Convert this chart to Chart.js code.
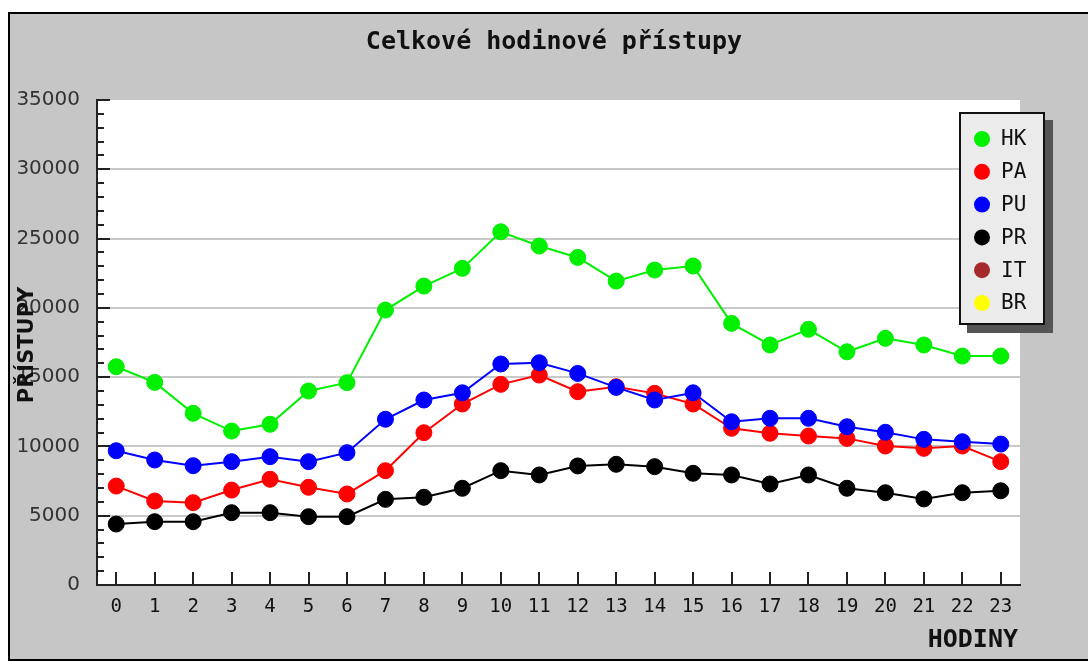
<!DOCTYPE html>
<html>
<head>
<meta charset="utf-8">
<script src="https://cdn.jsdelivr.net/npm/chart.js@4"></script>
<style>
  html, body { margin: 0; padding: 0; background: #fff; }
  #wrap { width: 1088px; height: 662px; }
</style>
</head>
<body>
<div id="wrap"><canvas id="hourChart" width="1088" height="662"></canvas></div>
<script>
const hours = ['0','1','2','3','4','5','6','7','8','9','10','11','12','13','14','15','16','17','18','19','20','21','22','23'];

const hkData = [15750, 14620, 12390, 11110, 11600, 14000, 14600, 19840, 21570, 22850, 25490, 24460,
                23640, 21930, 22730, 23020, 18880, 17320, 18450, 16830, 17800, 17320, 16520, 16520];
const paData = [7140, 6060, 5940, 6850, 7630, 7050, 6570, 8250, 10990, 13060, 14480, 15150,
                13950, 14310, 13830, 13060, 11310, 10950, 10750, 10580, 10030, 9860, 10030, 8900];
const puData = [9690, 9020, 8610, 8900, 9260, 8900, 9550, 11960, 13350, 13870, 15950, 16040,
                15270, 14260, 13350, 13870, 11780, 12030, 12030, 11420, 11020, 10510, 10340, 10170];
const prData = [4400, 4570, 4570, 5220, 5220, 4930, 4930, 6180, 6330, 6980, 8250, 7940,
                8590, 8710, 8540, 8060, 7940, 7290, 7940, 6980, 6660, 6210, 6660, 6800];
const itData = [];
const brData = [];

const yMax = 35000;
const yStep = 5000;
const yMinorStep = 1000;

const monoFont = "'DejaVu Sans Mono', 'Liberation Mono', monospace";

function series(label, data, color, order) {
    return {
        label,
        data,
        borderColor: color,
        backgroundColor: color,
        borderWidth: 2,
        pointRadius: 8,
        pointHoverRadius: 8,
        pointBorderWidth: 1,
        pointBorderColor: color,
        pointBackgroundColor: color,
        tension: 0,
        order
    };
}

// background, frame, inward ticks, titles and the boxed legend
const decorPlugin = {
    id: 'decor',
    beforeDraw(chart) {
        const { ctx, chartArea: a } = chart;
        ctx.save();
        ctx.fillStyle = '#ffffff';
        ctx.fillRect(0, 0, chart.width, chart.height);
        ctx.fillStyle = '#c6c6c6';
        ctx.fillRect(9, 13, chart.width - 9, 647);
        ctx.fillStyle = '#000';
        ctx.fillRect(8, 12, chart.width - 8, 2);
        ctx.fillRect(8, 12, 2, 649);
        ctx.fillRect(8, 659, chart.width - 8, 2);
        ctx.fillStyle = '#ffffff';
        ctx.fillRect(a.left, a.top, a.right - a.left, a.bottom - a.top);
        ctx.restore();
    },
    beforeDatasetsDraw(chart) {
        const { ctx, chartArea: a, scales } = chart;
        ctx.save();
        ctx.strokeStyle = '#222';
        ctx.lineWidth = 2;
        ctx.beginPath();
        for (let v = 0; v <= yMax; v += yMinorStep) {
            const y = Math.round(scales.y.getPixelForValue(v));
            const len = v % yStep === 0 ? 13 : 7;
            ctx.moveTo(a.left, y);
            ctx.lineTo(a.left + len, y);
        }
        hours.forEach((h, i) => {
            const x = Math.round(scales.x.getPixelForValue(i));
            ctx.moveTo(x, a.bottom);
            ctx.lineTo(x, a.bottom - 13);
        });
        ctx.stroke();
        ctx.restore();
    },
    afterDraw(chart) {
        const { ctx } = chart;
        ctx.save();
        ctx.fillStyle = '#111';
        ctx.font = 'bold 25px ' + monoFont;
        ctx.textAlign = 'center';
        ctx.textBaseline = 'middle';
        ctx.fillText('Celkové hodinové přístupy', 554, 42);

        ctx.textAlign = 'right';
        ctx.fillText('HODINY', 1018, 640);

        ctx.font = "bold 21px 'DejaVu Sans', sans-serif";
        ctx.translate(28, 345);
        ctx.rotate(-Math.PI / 2);
        ctx.textAlign = 'center';
        ctx.fillText('PŘÍSTUPY', 0, 0);
        ctx.restore();

        // legend box with drop shadow
        const box = { x: 959, y: 112, w: 86, h: 213 };
        ctx.save();
        ctx.fillStyle = '#555';
        ctx.fillRect(box.x + 8, box.y + 8, box.w, box.h);
        ctx.fillStyle = '#ebebeb';
        ctx.fillRect(box.x, box.y, box.w, box.h);
        ctx.strokeStyle = '#111';
        ctx.lineWidth = 2;
        ctx.strokeRect(box.x + 1, box.y + 1, box.w - 2, box.h - 2);
        ctx.font = '21px ' + monoFont;
        ctx.textAlign = 'left';
        ctx.textBaseline = 'middle';
        chart.data.datasets.forEach((ds, i) => {
            const cy = 139 + i * 32.8;
            ctx.fillStyle = ds.borderColor;
            ctx.beginPath();
            ctx.arc(982, cy, 8, 0, Math.PI * 2);
            ctx.fill();
            ctx.fillStyle = '#111';
            ctx.fillText(ds.label, 1001, cy + 1);
        });
        ctx.restore();
    }
};

const ctx = document.getElementById('hourChart').getContext('2d');
new Chart(ctx, {
    type: 'line',
    data: {
        labels: hours,
        datasets: [
            series('HK', hkData, '#00f000', 6),
            series('PA', paData, '#ff0000', 5),
            series('PU', puData, '#0000ff', 4),
            series('PR', prData, '#000000', 3),
            series('IT', itData, '#a52a2a', 2),
            series('BR', brData, '#ffff00', 1)
        ]
    },
    options: {
        responsive: false,
        devicePixelRatio: 1,
        animation: false,
        layout: { padding: { top: 100, right: 68, bottom: 0, left: 0 } },
        plugins: {
            legend: { display: false },
            title: { display: false },
            tooltip: { enabled: false }
        },
        scales: {
            x: {
                offset: true,
                afterFit: scale => { scale.height = 77; },
                grid: { display: false, drawTicks: false },
                border: { display: true, color: '#222', width: 2 },
                ticks: {
                    color: '#111',
                    padding: 11,
                    maxRotation: 0,
                    autoSkip: false,
                    font: { family: monoFont, size: 19 }
                }
            },
            y: {
                min: 0,
                max: yMax,
                afterFit: scale => { scale.width = 97; },
                grid: {
                    drawTicks: false,
                    lineWidth: 2,
                    color: c => (c.tick && (c.tick.value === yMax || c.tick.value === 0)) ? 'rgba(0,0,0,0)' : '#c8c8c8'
                },
                border: { display: true, color: '#222', width: 2 },
                ticks: {
                    stepSize: yStep,
                    padding: 17,
                    color: '#333',
                    font: { family: "'DejaVu Sans', sans-serif", size: 20 },
                    callback: v => String(v)
                }
            }
        }
    },
    plugins: [decorPlugin]
});
</script>
</body>
</html>
